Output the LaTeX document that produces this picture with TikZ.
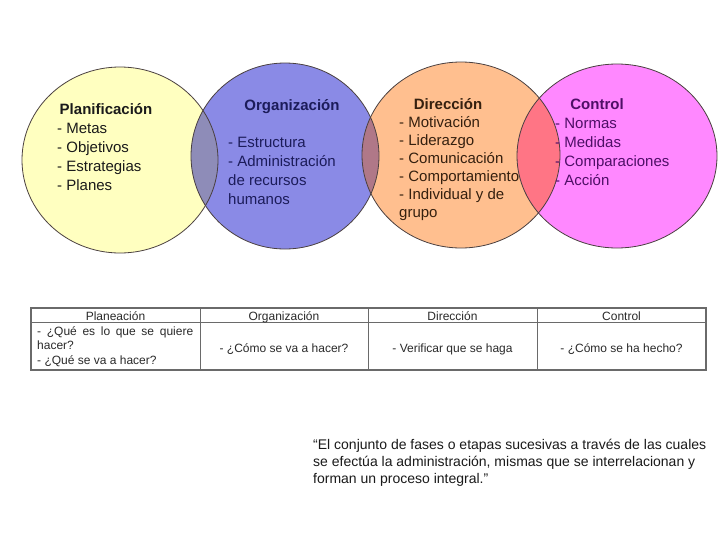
\documentclass[tikz,border=0pt]{standalone}
\usepackage{fontspec}
\setmainfont{Liberation Sans}
\usetikzlibrary{positioning}

\definecolor{amarillo}{HTML}{FFFFC0}
\definecolor{azul}{HTML}{8A8AE6}
\definecolor{naranja}{HTML}{FFBF8F}
\definecolor{rosa}{HTML}{FF88FF}
\definecolor{amaz}{HTML}{8E8CB8}
\definecolor{aznar}{HTML}{B07888}
\definecolor{narros}{HTML}{FF7585}
\definecolor{borde}{HTML}{4A4040}
\definecolor{tinta}{HTML}{1A1A1A}
\definecolor{tintaaz}{HTML}{1C1C5A}
\definecolor{tintana}{HTML}{35200F}
\definecolor{tintaro}{HTML}{4E0F66}
\definecolor{rejilla}{HTML}{6A6A6A}
\definecolor{celdatx}{HTML}{2A2A2A}

\tikzset{
  fase/.style={draw=borde, line width=0.8pt},
  titulo/.style={font=\fontsize{15}{18}\selectfont\bfseries, anchor=base, inner sep=0pt},
  punto/.style={font=\fontsize{15}{18}\selectfont, anchor=base west, inner sep=0pt},
  celda/.style={font=\fontsize{12}{14}\selectfont, text=celdatx, anchor=base, inner sep=0pt},
  cita/.style={font=\fontsize{14}{17}\selectfont, text=tinta, anchor=base west, inner sep=0pt},
}

\begin{document}
\begin{tikzpicture}[x=1pt, y=-1pt]
    \useasboundingbox[fill=white] (0,0) rectangle (728,546);

    % Circulos
    \fill[amarillo] (120,160) ellipse [x radius=98pt, y radius=93pt];
    \fill[azul] (285,156) ellipse [x radius=94pt, y radius=93pt];
    \fill[naranja] (461,155) ellipse [x radius=99pt, y radius=93pt];
    \fill[rosa] (617,156) ellipse [x radius=100pt, y radius=92pt];

    % Intersecciones
    \begin{scope}
      \clip (120,160) ellipse [x radius=98pt, y radius=93pt];
      \fill[amaz] (285,156) ellipse [x radius=94pt, y radius=93pt];
    \end{scope}
    \begin{scope}
      \clip (285,156) ellipse [x radius=94pt, y radius=93pt];
      \fill[aznar] (461,155) ellipse [x radius=99pt, y radius=93pt];
    \end{scope}
    \begin{scope}
      \clip (461,155) ellipse [x radius=99pt, y radius=93pt];
      \fill[narros] (617,156) ellipse [x radius=100pt, y radius=92pt];
    \end{scope}

    % Bordes
    \draw[fase] (120,160) ellipse [x radius=98pt, y radius=93pt];
    \draw[fase] (285,156) ellipse [x radius=94pt, y radius=93pt];
    \draw[fase] (461,155) ellipse [x radius=99pt, y radius=93pt];
    \draw[fase] (617,156) ellipse [x radius=100pt, y radius=92pt];

    % Planificacion
    \node[titulo, text=tinta] (plan) at (106,114) {Planificación};
    \foreach \txt [count=\i] in {- Metas, - Objetivos, - Estrategias, - Planes}
      \node[punto, text=tinta] (plan-\i) at (57,114+19*\i) {\txt};

    % Organizacion
    \node[titulo, text=tintaaz] (org) at (292,110) {Organización};
    \foreach \txt [count=\i] in {- Estructura, - Administración, de recursos, humanos}
      \node[punto, text=tintaaz] (org-\i) at (228,128+19*\i) {\txt};

    % Direccion
    \node[titulo, text=tintana] (dir) at (448,109) {Dirección};
    \foreach \txt [count=\i] in {- Motivación, - Liderazgo, - Comunicación, - Comportamiento, - Individual y de, grupo}
      \node[punto, text=tintana] (dir-\i) at (399,109+18*\i) {\txt};

    % Control
    \node[titulo, text=tintaro] (ctl) at (597,109) {Control};
    \foreach \txt [count=\i] in {- Normas, - Medidas, - Comparaciones, - Acción}
      \node[punto, text=tintaro] (ctl-\i) at (555,109+19*\i) {\txt};

    % Tabla
    \draw[rejilla, line width=1.2pt] (31,308) rectangle (706,370);
    \draw[rejilla, line width=1pt] (31,322) -- (706,322);
    \foreach \x in {200,368,537}
      \draw[rejilla, line width=1pt] (\x,308) -- (\x,370);
    \foreach \txt/\x [count=\i] in {Planeación/115.5, Organización/284, Dirección/452.5, Control/621.5}
      \node[celda] (cab-\i) at (\x,320) {\txt};
    \node[celda, anchor=base west] (c1a) at (37,335) {\makebox[156pt][s]{- ¿Qué es lo que se quiere}};
    \node[celda, anchor=base west] (c1b) at (37,349) {hacer?};
    \node[celda, anchor=base west] (c1c) at (37,364) {- ¿Qué se va a hacer?};
    \node[celda] (c2) at (284,352) {- ¿Cómo se va a hacer?};
    \node[celda] (c3) at (452.5,352) {- Verificar que se haga};
    \node[celda] (c4) at (621.5,352) {- ¿Cómo se ha hecho?};

    % Cita
    \node[cita] (cita-1) at (313,449) {“El conjunto de fases o etapas sucesivas a través de las cuales};
    \node[cita] (cita-2) at (313,466) {se efectúa la administración, mismas que se interrelacionan y};
    \node[cita] (cita-3) at (313,483) {forman un proceso integral.”};
\end{tikzpicture}
\end{document}
